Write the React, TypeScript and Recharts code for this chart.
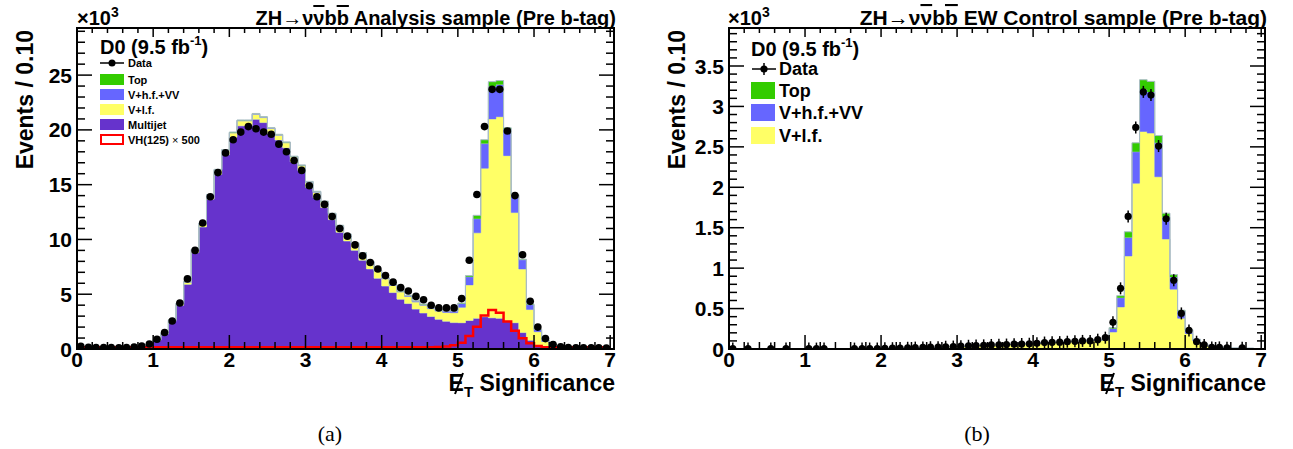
import React from "react";
import { ComposedChart, Area, Line, Scatter, XAxis, YAxis } from "recharts";

// bins of width 0.1 from 0 to 7, values in units of 10^3 events
const dataA = [
  0.25, 0.15, 0.14, 0.13, 0.13, 0.12, 0.14, 0.18, 0.28, 0.45,
  0.89, 1.5, 2.55, 4.2, 6.4, 9.0, 11.5, 13.9, 16.1, 17.9,
  19.1, 19.8, 20.3, 20.1, 19.8, 19.6, 18.7, 18.0, 17.2, 16.3,
  14.9, 13.9, 13.2, 12.1, 11.0, 10.3, 9.5, 8.5, 7.9, 7.3,
  6.7, 6.1, 5.6, 5.3, 4.8, 4.5, 4.0, 3.75, 3.75, 3.75,
  4.6, 8.1, 14.1, 20.3, 23.7, 23.7, 19.9, 14.0, 8.6, 4.35,
  2.0, 0.95, 0.4, 0.2, 0.14, 0.12, 0.1, 0.1, 0.1, 0.08,
];
const multijetA = [
  0.03, 0.03, 0.03, 0.03, 0.03, 0.04, 0.05, 0.08, 0.17, 0.36,
  0.8, 1.37, 2.53, 4.0, 5.9, 8.8, 11.14, 13.68, 15.93, 17.73,
  19.32, 20.37, 20.37, 20.97, 20.67, 19.67, 19.07, 18.37, 17.07, 16.27,
  14.76, 13.81, 12.91, 11.81, 10.66, 9.86, 9.01, 8.11, 7.31, 6.46,
  5.75, 5.15, 4.55, 4.15, 3.64, 3.29, 2.97, 2.71, 2.54, 2.41,
  2.4, 2.6, 2.8, 2.95, 2.85, 2.8, 2.5, 2.4, 1.5, 0.8,
  0.3, 0.14, 0.05, 0.02, 0.02, 0.02, 0.02, 0.02, 0.02, 0.02,
];
const vlfA = [
  0.01, 0.01, 0.01, 0.01, 0.01, 0.01, 0.01, 0.01, 0.02, 0.03,
  0.04, 0.06, 0.1, 0.15, 0.2, 0.25, 0.3, 0.35, 0.4, 0.4,
  0.4, 0.45, 0.45, 0.45, 0.45, 0.45, 0.45, 0.45, 0.45, 0.45,
  0.45, 0.5, 0.5, 0.5, 0.55, 0.55, 0.6, 0.6, 0.6, 0.65,
  0.65, 0.65, 0.65, 0.65, 0.65, 0.7, 0.7, 0.75, 0.8, 0.9,
  1.4, 3.25, 7.8, 13.55, 18.15, 18.4, 15.15, 10.05, 5.8, 2.8,
  1.28, 0.55, 0.26, 0.12, 0.06, 0.05, 0.05, 0.04, 0.04, 0.03,
];
const vhfA = [
  0.005, 0.005, 0.005, 0.005, 0.005, 0.005, 0.005, 0.005, 0.01, 0.01,
  0.01, 0.02, 0.02, 0.03, 0.03, 0.03, 0.04, 0.04, 0.05, 0.05,
  0.05, 0.05, 0.05, 0.05, 0.05, 0.05, 0.05, 0.05, 0.05, 0.05,
  0.06, 0.06, 0.06, 0.06, 0.06, 0.06, 0.06, 0.06, 0.06, 0.06,
  0.07, 0.07, 0.07, 0.07, 0.08, 0.08, 0.09, 0.1, 0.12, 0.15,
  0.35, 0.75, 1.3, 2.25, 2.95, 2.95, 2.45, 1.6, 0.85, 0.45,
  0.2, 0.1, 0.04, 0.01, 0.01, 0.01, 0.01, 0.01, 0.01, 0.01,
];
const topA = [
  0, 0, 0, 0, 0, 0, 0, 0, 0, 0,
  0.005, 0.005, 0.01, 0.01, 0.02, 0.02, 0.02, 0.02, 0.02, 0.02,
  0.03, 0.03, 0.03, 0.03, 0.03, 0.03, 0.03, 0.03, 0.03, 0.03,
  0.03, 0.03, 0.03, 0.03, 0.03, 0.03, 0.03, 0.03, 0.03, 0.03,
  0.03, 0.03, 0.03, 0.03, 0.03, 0.03, 0.04, 0.04, 0.04, 0.04,
  0.05, 0.1, 0.3, 0.35, 0.45, 0.35, 0.1, 0.05, 0.05, 0.05,
  0.02, 0.01, 0, 0, 0, 0, 0, 0, 0, 0,
];
const vhSignalA = [
  0.15, 0.15, 0.15, 0.15, 0.15, 0.15, 0.15, 0.15, 0.15, 0.15,
  0.15, 0.15, 0.15, 0.15, 0.15, 0.15, 0.15, 0.15, 0.15, 0.15,
  0.15, 0.15, 0.15, 0.15, 0.15, 0.15, 0.15, 0.15, 0.15, 0.15,
  0.15, 0.15, 0.15, 0.15, 0.15, 0.15, 0.15, 0.15, 0.15, 0.15,
  0.15, 0.15, 0.15, 0.15, 0.15, 0.15, 0.16, 0.18, 0.22, 0.35,
  0.58, 1.19, 2.04, 3.05, 3.56, 3.32, 2.5, 1.67, 0.97, 0.52,
  0.27, 0.15, 0.15, 0.15, 0.15, 0.15, 0.15, 0.15, 0.15, 0.15,
];

const dataB = [
  0.005, null, 0.005, null, null, 0.005, null, 0.005, null, null,
  0.005, 0.005, 0.005, null, null, null, 0.005, 0.005, 0.006, 0.006,
  0.008, 0.01, 0.012, 0.015, 0.017, 0.02, 0.022, 0.023, 0.028, 0.03,
  0.035, 0.04, 0.042, 0.045, 0.05, 0.052, 0.055, 0.06, 0.062, 0.065,
  0.07, 0.08, 0.082, 0.085, 0.09, 0.095, 0.1, 0.1, 0.115, 0.14,
  0.33, 0.75, 1.64, 2.74, 3.18, 3.14, 2.51, 1.61, 0.85, 0.44,
  0.23, 0.09, 0.05, 0.02, 0.02, 0.015, null, 0.015, null, null,
];
const vlfB = [
  0.003, 0.003, 0.003, 0.003, 0.003, 0.003, 0.003, 0.003, 0.003, 0.003,
  0.003, 0.003, 0.003, 0.003, 0.003, 0.003, 0.004, 0.005, 0.005, 0.006,
  0.007, 0.009, 0.011, 0.013, 0.015, 0.017, 0.02, 0.022, 0.025, 0.028,
  0.031, 0.035, 0.038, 0.041, 0.045, 0.048, 0.052, 0.055, 0.06, 0.064,
  0.068, 0.072, 0.076, 0.08, 0.085, 0.09, 0.094, 0.1, 0.105, 0.11,
  0.21, 0.52, 1.15, 2.05, 2.69, 2.67, 2.13, 1.36, 0.74, 0.38,
  0.19, 0.1, 0.05, 0.03, 0.02, 0.015, 0.01, 0.01, 0.008, 0.006,
];
const vhfB = [
  0, 0, 0, 0, 0, 0, 0, 0, 0, 0,
  0, 0, 0, 0, 0, 0, 0, 0, 0, 0,
  0, 0, 0, 0, 0, 0, 0, 0, 0, 0,
  0.002, 0.002, 0.002, 0.002, 0.002, 0.002, 0.002, 0.002, 0.002, 0.002,
  0.004, 0.004, 0.005, 0.005, 0.006, 0.006, 0.007, 0.008, 0.009, 0.01,
  0.045, 0.115, 0.23, 0.39, 0.52, 0.51, 0.42, 0.27, 0.15, 0.09,
  0.045, 0.02, 0.01, 0.005, 0.003, 0.002, 0.001, 0.001, 0.001, 0,
];
const topB = [
  0, 0, 0, 0, 0, 0, 0, 0, 0, 0,
  0, 0, 0, 0, 0, 0, 0, 0, 0, 0,
  0, 0, 0, 0, 0, 0, 0, 0, 0, 0,
  0, 0, 0, 0, 0, 0, 0, 0, 0, 0,
  0.001, 0.001, 0.001, 0.001, 0.001, 0.001, 0.001, 0.001, 0.001, 0.001,
  0.01, 0.025, 0.07, 0.11, 0.12, 0.13, 0.09, 0.05, 0.03, 0.01,
  0.005, 0, 0, 0, 0, 0, 0, 0, 0, 0,
];

const xMajorLabels = ["0", "1", "2", "3", "4", "5", "6", "7"];
const yMajorLabelsA = ["0", "5", "10", "15", "20", "25"];
const yMajorLabelsB = ["0", "0.5", "1", "1.5", "2", "2.5", "3", "3.5"];

const FONT = "'Liberation Sans', Arial, Helvetica, sans-serif";
const SERIF = "'Liberation Serif', 'DejaVu Serif', serif";
const COL = { top: "#33cc00", vhf: "#6666ff", vlf: "#ffff66", mj: "#6633cc", vh: "#ff0000", edge: "#a9bcc4" };

const PLOT_TOP = 28;
const PLOT_BOTTOM = 349;

// histogram edges 0.0 ... 7.0, value of the bin starting at each edge (stepAfter)
function histRows(series: Record<string, number[]>) {
  const rows: any[] = [];
  for (let i = 0; i <= 70; i++) {
    const row: any = { x: i / 10 };
    for (const k of Object.keys(series)) row[k] = series[k][Math.min(i, 69)];
    rows.push(row);
  }
  return rows;
}

function dataPoints(vals: (number | null)[]) {
  const pts: { x: number; y: number }[] = [];
  vals.forEach((v, i) => {
    if (v !== null) pts.push({ x: (i + 0.5) / 10, y: v });
  });
  return pts;
}

const xTicks = Array.from({ length: 36 }, (_, i) => Math.round(i * 2) / 10);
const yTicksA = Array.from({ length: 30 }, (_, i) => i);
const yTicksB = Array.from({ length: 40 }, (_, i) => i / 10);

const XTick = (props: any) => {
  const { x, y, payload } = props;
  const v = payload.value;
  const idx = xMajorLabels.indexOf(String(Math.round(v * 10) / 10));
  const major = idx >= 0;
  return (
    <g>
      <line x1={x} x2={x} y1={y} y2={y - (major ? 14 : 7)} stroke="#000" strokeWidth={1.5} />
      <line x1={x} x2={x} y1={PLOT_TOP} y2={PLOT_TOP + (major ? 9 : 5)} stroke="#000" strokeWidth={1.5} />
      {major && (
        <text x={x} y={y + 18} textAnchor="middle" fontFamily={FONT} fontWeight="bold" fontSize={21} fill="#000">
          {xMajorLabels[idx]}
        </text>
      )}
    </g>
  );
};

const makeYTick = (labels: string[], right: number) => (props: any) => {
  const { x, y, payload } = props;
  const v = payload.value;
  const idx = labels.indexOf(String(Math.round(v * 10) / 10));
  const major = idx >= 0;
  const len = major ? 15 : 8;
  return (
    <g>
      <line x1={x} x2={x + len} y1={y} y2={y} stroke="#000" strokeWidth={1.5} />
      <line x1={right} x2={right - len} y1={y} y2={y} stroke="#000" strokeWidth={1.5} />
      {major && (
        <text x={x - 5} y={y + 7.5} textAnchor="end" fontFamily={FONT} fontWeight="bold" fontSize={21} fill="#000">
          {labels[idx]}
        </text>
      )}
    </g>
  );
};

const dotA = (p: any) => <circle cx={p.cx} cy={p.cy} r={3.8} fill="#000" />;
const dotB = (p: any) => (
  <g>
    <line x1={p.cx} x2={p.cx} y1={p.cy - 6} y2={p.cy + 6} stroke="#000" strokeWidth={1.5} />
    <circle cx={p.cx} cy={p.cy} r={3.6} fill="#000" />
  </g>
);

const rowsA = histRows({ mj: multijetA, vlf: vlfA, vhf: vhfA, top: topA, vh: vhSignalA });
const rowsB = histRows({ vlf: vlfB, vhf: vhfB, top: topB });
const ptsA = dataPoints(dataA);
const ptsB = dataPoints(dataB);

const stackArea = (key: string, fill: string) => (
  <Area
    key={key}
    type="stepAfter"
    dataKey={key}
    stackId="mc"
    fill={fill}
    fillOpacity={1}
    stroke={COL.edge}
    strokeWidth={1}
    dot={false}
    activeDot={false}
    isAnimationActive={false}
  />
);

function Title({ x, label, size }: { x: number; label: string; size: number }) {
  return (
    <text x={x} y={25} textAnchor="end" fontFamily={FONT} fontWeight="bold" fontSize={size} fill="#000">
      ZH<tspan fontWeight="normal">{"\u2192"}</tspan>ν
      <tspan style={{ textDecoration: "overline" }}>ν</tspan>b
      <tspan style={{ textDecoration: "overline" }}>b</tspan>
      {" " + label}
    </text>
  );
}

function Overlay() {
  const txt = { fontFamily: FONT, fontWeight: "bold" as const, fill: "#000" };
  return (
    <svg width={1293} height={449} style={{ position: "absolute", left: 0, top: 0, pointerEvents: "none" }}>
      {/* frames */}
      <rect x={77} y={PLOT_TOP} width={537} height={PLOT_BOTTOM - PLOT_TOP} fill="none" stroke="#000" strokeWidth={2} />
      <rect x={729} y={PLOT_TOP} width={536} height={PLOT_BOTTOM - PLOT_TOP} fill="none" stroke="#000" strokeWidth={2} />

      {/* x10^3 */}
      <text x={77} y={25} fontSize={20} {...txt}>
        {"\u00d710"}
        <tspan fontSize={14} dy={-8}>3</tspan>
      </text>
      <text x={728} y={25} fontSize={20} {...txt}>
        {"\u00d710"}
        <tspan fontSize={14} dy={-8}>3</tspan>
      </text>

      <Title x={616} size={20} label="Analysis sample (Pre b-tag)" />
      <Title x={1267} size={21} label="EW Control sample (Pre b-tag)" />

      {/* y titles */}
      <text transform="translate(33,30) rotate(-90)" textAnchor="end" fontSize={23} {...txt}>
        Events / 0.10
      </text>
      <text transform="translate(685,30) rotate(-90)" textAnchor="end" fontSize={23} {...txt}>
        Events / 0.10
      </text>

      {/* x titles */}
      {[615, 1266].map((xe) => (
        <text key={xe} x={xe} y={391} textAnchor="end" fontSize={23} {...txt}>
          E<tspan fontSize={15} dy={6}>T</tspan>
          <tspan dy={-6}> Significance</tspan>
        </text>
      ))}
      <line x1={455} y1={394} x2={463} y2={373} stroke="#000" strokeWidth={2} />
      <line x1={1106} y1={394} x2={1114} y2={373} stroke="#000" strokeWidth={2} />

      {/* left legend */}
      <text x={100} y={54} fontSize={20} {...txt}>
        D0 (9.5 fb<tspan fontSize={13} dy={-9}>-1</tspan>
        <tspan dy={9}>)</tspan>
      </text>
      <line x1={100} x2={124} y1={63} y2={63} stroke="#000" strokeWidth={1.5} />
      <circle cx={112} cy={63} r={3.5} fill="#000" />
      <text x={128} y={67} fontSize={11} {...txt}>Data</text>
      {[
        { label: "Top", fill: COL.top, y: 74 },
        { label: "V+h.f.+VV", fill: COL.vhf, y: 89 },
        { label: "V+l.f.", fill: COL.vlf, y: 104 },
        { label: "Multijet", fill: COL.mj, y: 119 },
      ].map((e) => (
        <g key={e.label}>
          <rect x={100} y={e.y} width={24} height={11} fill={e.fill} />
          <text x={128} y={e.y + 9.5} fontSize={11} {...txt}>{e.label}</text>
        </g>
      ))}
      <rect x={101} y={135} width={22} height={9} fill="#fff" stroke={COL.vh} strokeWidth={2} />
      <text x={128} y={143.5} fontSize={11} {...txt}>
        VH(125)<tspan fontWeight="normal">{" \u00d7 "}</tspan>500
      </text>

      {/* right legend */}
      <text x={751} y={56} fontSize={20} {...txt}>
        D0 (9.5 fb<tspan fontSize={13} dy={-9}>-1</tspan>
        <tspan dy={9}>)</tspan>
      </text>
      <line x1={752} x2={776} y1={69} y2={69} stroke="#000" strokeWidth={1.5} />
      <line x1={764} x2={764} y1={63} y2={75} stroke="#000" strokeWidth={1.5} />
      <circle cx={764} cy={69} r={3.6} fill="#000" />
      <text x={779} y={75} fontSize={18} {...txt}>Data</text>
      {[
        { label: "Top", fill: COL.top, y: 82 },
        { label: "V+h.f.+VV", fill: COL.vhf, y: 104 },
        { label: "V+l.f.", fill: COL.vlf, y: 127 },
      ].map((e) => (
        <g key={e.label}>
          <rect x={751} y={e.y} width={24} height={17} fill={e.fill} />
          <text x={779} y={e.y + 15} fontSize={18} {...txt}>{e.label}</text>
        </g>
      ))}

      {/* captions */}
      <text x={330} y={441} textAnchor="middle" fontFamily={SERIF} fontSize={22} fill="#000">
        (a)
      </text>
      <text x={977} y={441} textAnchor="middle" fontFamily={SERIF} fontSize={22} fill="#000">
        (b)
      </text>
    </svg>
  );
}

export default function App() {
  return (
    <div style={{ position: "absolute", left: 0, top: 0, width: 1293, height: 449, background: "#fff" }}>
      <div style={{ position: "absolute", left: 0, top: 0 }}>
        <ComposedChart width={640} height={400} data={rowsA} margin={{ top: 28, right: 26, bottom: 21, left: 37 }}>
          <XAxis
            dataKey="x"
            type="number"
            domain={[0, 7.05]}
            allowDataOverflow
            ticks={xTicks}
            interval={0}
            tickSize={0}
            tickMargin={0}
            axisLine={false}
            tickLine={false}
            height={30}
            tick={XTick}
          />
          <YAxis
            type="number"
            domain={[0, 29.3]}
            allowDataOverflow
            ticks={yTicksA}
            interval={0}
            tickSize={0}
            tickMargin={0}
            axisLine={false}
            tickLine={false}
            width={40}
            tick={makeYTick(yMajorLabelsA, 614)}
          />
          {stackArea("mj", COL.mj)}
          {stackArea("vlf", COL.vlf)}
          {stackArea("vhf", COL.vhf)}
          {stackArea("top", COL.top)}
          <Line
            type="stepAfter"
            dataKey="vh"
            stroke={COL.vh}
            strokeWidth={2.5}
            dot={false}
            activeDot={false}
            isAnimationActive={false}
          />
          <Scatter data={ptsA} dataKey="y" shape={dotA} isAnimationActive={false} />
        </ComposedChart>
      </div>
      <div style={{ position: "absolute", left: 650, top: 0 }}>
        <ComposedChart width={640} height={400} data={rowsB} margin={{ top: 28, right: 25, bottom: 21, left: 39 }}>
          <XAxis
            dataKey="x"
            type="number"
            domain={[0, 7.05]}
            allowDataOverflow
            ticks={xTicks}
            interval={0}
            tickSize={0}
            tickMargin={0}
            axisLine={false}
            tickLine={false}
            height={30}
            tick={XTick}
          />
          <YAxis
            type="number"
            domain={[0, 3.97]}
            allowDataOverflow
            ticks={yTicksB}
            interval={0}
            tickSize={0}
            tickMargin={0}
            axisLine={false}
            tickLine={false}
            width={40}
            tick={makeYTick(yMajorLabelsB, 615)}
          />
          {stackArea("vlf", COL.vlf)}
          {stackArea("vhf", COL.vhf)}
          {stackArea("top", COL.top)}
          <Scatter data={ptsB} dataKey="y" shape={dotB} isAnimationActive={false} />
        </ComposedChart>
      </div>
      <Overlay />
    </div>
  );
}
